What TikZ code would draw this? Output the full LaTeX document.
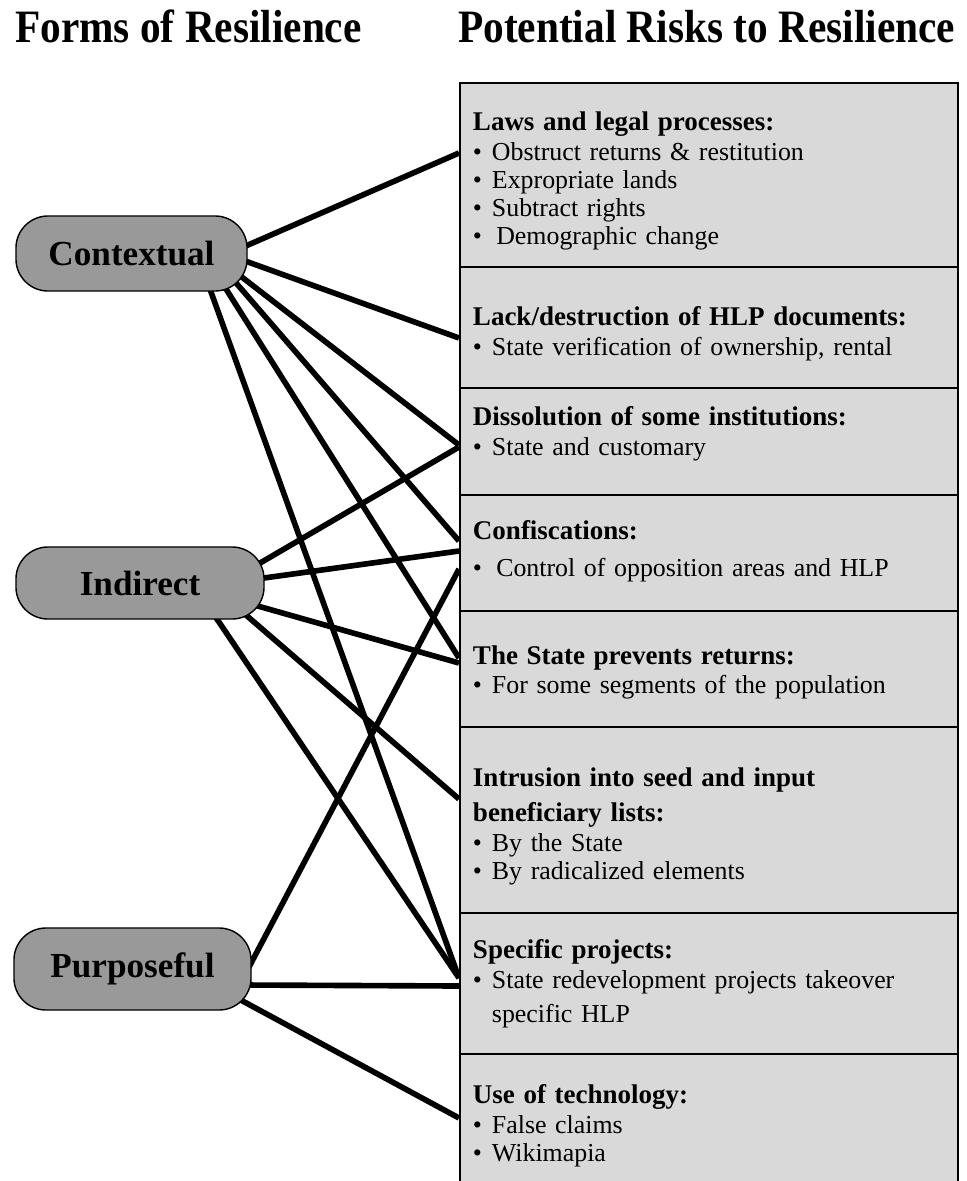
\documentclass[tikz,border=0pt]{standalone}
\usepackage{fontspec}
\setmainfont{Liberation Serif}
\usetikzlibrary{backgrounds,calc}
\definecolor{formgray}{gray}{0.6}
\definecolor{riskgray}{gray}{0.85}
\newcommand{\riskhead}[1]{{\fontsize{19.2}{20}\selectfont\bfseries #1}}
\newcommand{\riskitem}[1]{\makebox[13.5pt][l]{\textbullet}#1}

\begin{document}
\begin{tikzpicture}[x=0.025cm, y=-0.025cm,
  form/.style={draw=black, line width=1pt, fill=formgray, rounded corners=0.8cm, inner sep=0pt, font=\fontsize{25}{28}\selectfont\bfseries},
  risk/.style={draw=black, line width=1.4pt, fill=riskgray, anchor=north west, minimum width=12.45cm, text width=11.8cm, inner xsep=0.325cm, inner ysep=0pt, align=left, font=\fontsize{18.4}{20}\selectfont},
  heading/.style={anchor=base west, inner sep=0pt, font=\fontsize{33}{36}\selectfont\bfseries},
  link/.style={line width=4pt}]
				\useasboundingbox (0, 0) rectangle (966, 1181);
				\node[heading] (formshead) at (15, 43) {\scalebox{0.89}[1]{Forms of Resilience}};
				\node[heading] (riskshead) at (458, 43) {\scalebox{0.89}[1]{Potential Risks to Resilience}};
				\node[form, minimum width=5.775cm, minimum height=1.875cm] (ctx) at (131.5, 253.5) {Contextual};
				\node[form, minimum width=6.2cm, minimum height=1.8cm] (ind) at (140, 583) {Indirect};
				\node[form, minimum width=5.925cm, minimum height=2.05cm] (purp) at (132.5, 969) {Purposeful};
				\node[risk, minimum height=4.6cm] (laws) at (459, 82) {\rule{0pt}{22pt}\riskhead{Laws and legal processes:}\\[1.3pt]
					\riskitem{Obstruct returns \& restitution}\\
					\riskitem{Expropriate lands}\\
					\riskitem{Subtract rights}\\
					\riskitem{\,Demographic change}};
				\node[risk, minimum height=3.025cm] (lack) at (459, 266) {\rule{0pt}{22pt}\riskhead{Lack/destruction of HLP documents:}\\[1.3pt]
					\riskitem{State verification of ownership, rental}};
				\node[risk, minimum height=2.675cm] (diss) at (459, 387) {\riskhead{Dissolution of some institutions:}\\[1.3pt]
					\riskitem{State and customary}\\[-5pt]\mbox{}};
				\node[risk, minimum height=2.9cm] (conf) at (459, 494) {\riskhead{Confiscations:}\\[6.2pt]
					\riskitem{\,Control of opposition areas and HLP}\\[-14pt]\mbox{}};
				\node[risk, minimum height=2.9cm] (prev) at (459, 610) {\rule{0pt}{18pt}\riskhead{The State prevents returns:}\\[0.8pt]
					\riskitem{For some segments of the population}};
				\node[risk, minimum height=4.65cm] (intr) at (459, 726) {\rule{0pt}{22pt}\riskhead{Intrusion into seed and input}\\[4.8pt]
					\riskhead{beneficiary lists:}\\[1.3pt]
					\riskitem{By the State}\\
					\riskitem{By radicalized elements}};
				\node[risk, minimum height=3.525cm] (spec) at (459, 912) {\riskhead{Specific projects:}\\[1.5pt]
					\riskitem{State redevelopment projects takeover}\\[4pt]
					\hspace*{13.5pt}specific HLP};
				\node[risk, minimum height=3.6cm] (tech) at (459, 1053) {\riskhead{Use of technology:}\\[1.3pt]
					\riskitem{False claims}\\
					\riskitem{Wikimapia}};
				\begin{pgfonlayer}{background}
				\draw[link] ($(ctx.center)+(109.2, -5.3)$) -- ($(laws.west)+(0, -22)$);
				\draw[link] ($(ctx.center)+(109, 5.8)$) -- ($(lack.west)+(0, 10.5)$);
				\draw[link] ($(ctx.center)+(105.2, 19.6)$) -- ($(diss.west)+(0, 3.5)$);
				\draw[link] ($(ctx.center)+(100.3, 24.5)$) -- ($(conf.west)+(0, -12)$);
				\draw[link] ($(ctx.center)+(90.2, 28.7)$) -- ($(prev.west)+(0, -11)$);
				\draw[link] ($(ctx.center)+(76.8, 31)$) -- ($(spec.west)+(0, -5.5)$);
				\draw[link] ($(ind.center)+(113.1, -15.9)$) -- ($(diss.west)+(0, 5.5)$);
				\draw[link] ($(ind.center)+(116.1, -3.9)$) -- ($(conf.west)+(0, -2)$);
				\draw[link] ($(ind.center)+(110.3, 20.9)$) -- ($(prev.west)+(0, -6)$);
				\draw[link] ($(ind.center)+(99.9, 26.8)$) -- ($(intr.west)+(0, -21)$);
				\draw[link] ($(ind.center)+(72.5, 29.4)$) -- ($(spec.west)+(0, -5.5)$);
				\draw[link] ($(purp.center)+(113.8, 3.1)$) -- ($(conf.west)+(0, 16)$);
				\draw[link] ($(purp.center)+(109.5, 16)$) -- ($(spec.west)+(0, 2.5)$);
				\draw[link] ($(purp.center)+(97.5, 25.2)$) -- ($(tech.west)+(0, -8)$);
				\end{pgfonlayer}
			\end{tikzpicture}
\end{document}
